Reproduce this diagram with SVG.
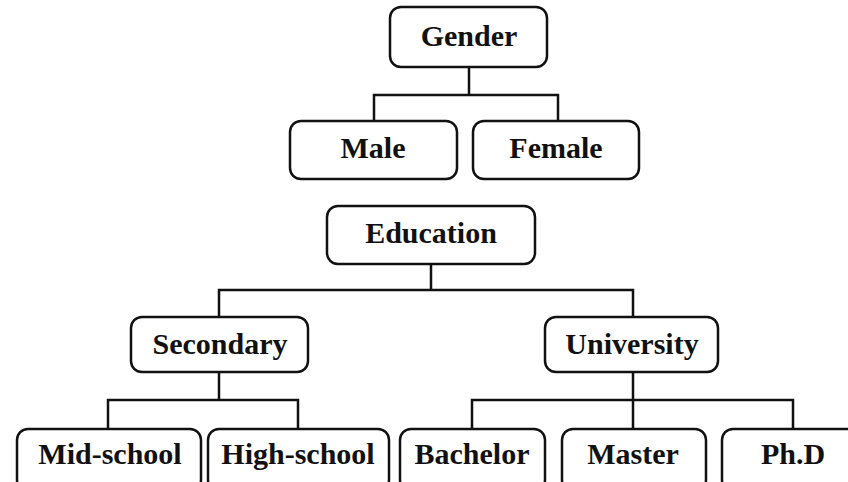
<svg xmlns="http://www.w3.org/2000/svg" width="848" height="482" viewBox="0 0 848 482">
<style>
.box{fill:#fff;stroke:#111;stroke-width:2.5}
.lbl{font-family:"Liberation Serif","Times New Roman",serif;font-weight:bold;font-size:30px;fill:#111;text-anchor:middle}
.ln{fill:none;stroke:#111;stroke-width:2.5}
</style>
<rect width="848" height="482" fill="#fff"/>
<g id="connectors">
<path class="ln" d="M469 67V95M374 121V95H558V121"/>
<path class="ln" d="M431 264V290M219 317V290H633V317"/>
<path class="ln" d="M219 372V400M108 429V400H298V429"/>
<path class="ln" d="M633 372V429M472 429V400H793V429"/>
</g>
<g id="gender"><rect class="box" x="390" y="7" width="157" height="60" rx="11"/><text class="lbl" x="469" y="46">Gender</text></g>
<g id="male"><rect class="box" x="290" y="121" width="167" height="58" rx="11"/><text class="lbl" x="373" y="158">Male</text></g>
<g id="female"><rect class="box" x="473" y="121" width="166" height="58" rx="11"/><text class="lbl" x="556" y="158">Female</text></g>
<g id="education"><rect class="box" x="327" y="206" width="208" height="58" rx="11"/><text class="lbl" x="431" y="243">Education</text></g>
<g id="secondary"><rect class="box" x="131" y="317" width="177" height="55" rx="11"/><text class="lbl" x="220" y="354">Secondary</text></g>
<g id="university"><rect class="box" x="545" y="317" width="173" height="55" rx="11"/><text class="lbl" x="632" y="354">University</text></g>
<g id="midschool"><rect class="box" x="17" y="429" width="184" height="62" rx="11"/><text class="lbl" x="110" y="464">Mid-school</text></g>
<g id="highschool"><rect class="box" x="208" y="429" width="181" height="62" rx="11"/><text class="lbl" x="298" y="464">High-school</text></g>
<g id="bachelor"><rect class="box" x="400" y="429" width="145" height="62" rx="11"/><text class="lbl" x="472" y="464">Bachelor</text></g>
<g id="master"><rect class="box" x="562" y="429" width="144" height="62" rx="11"/><text class="lbl" x="633" y="464">Master</text></g>
<g id="phd"><rect class="box" x="722" y="429" width="140" height="62" rx="11"/><text class="lbl" x="793" y="464">Ph.D</text></g>
</svg>
